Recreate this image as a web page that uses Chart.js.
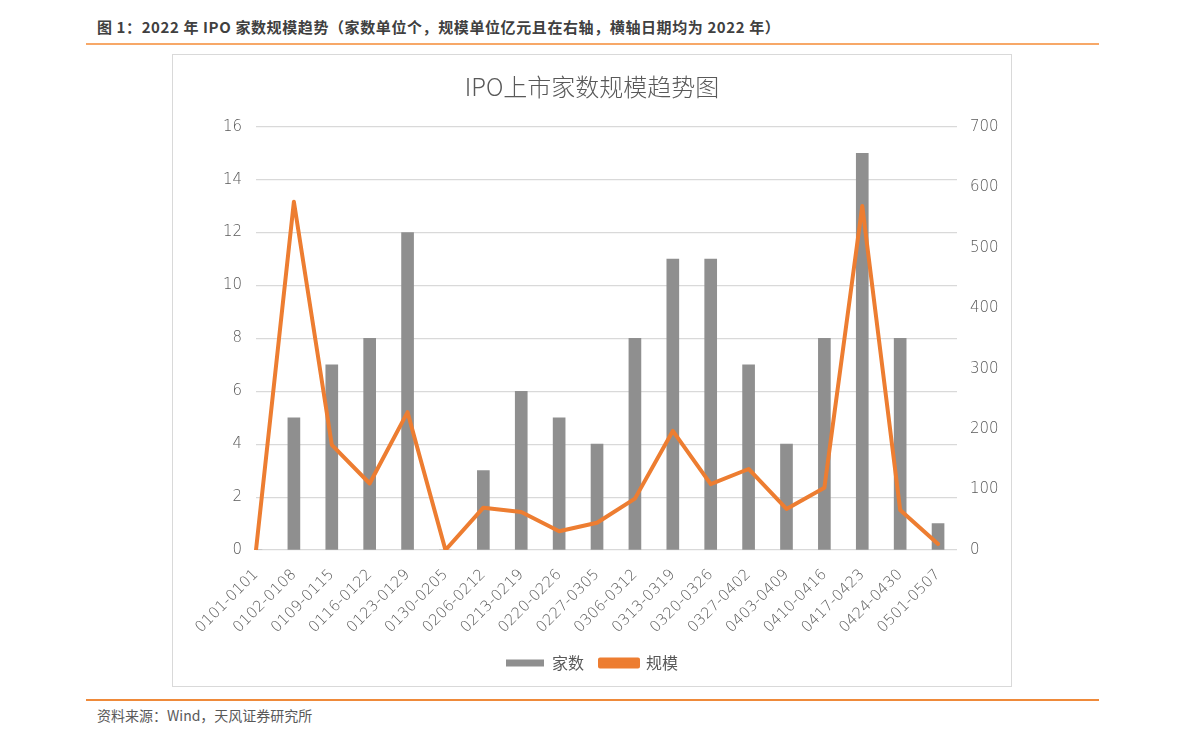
<!DOCTYPE html>
<html>
<head>
<meta charset="utf-8">
<script src="https://cdn.jsdelivr.net/npm/chart.js@4.4.1/dist/chart.umd.min.js"></script>
<style>
  html, body { margin: 0; padding: 0; background: #fff; }
  body { width: 1191px; height: 745px; position: relative; overflow: hidden;
         font-family: "Noto Sans CJK SC", "Noto Sans", sans-serif; }
  .fig-title { position: absolute; left: 97px; top: 16px; font-size: 15px; letter-spacing: 0.6px;
               font-weight: bold; color: #404040; white-space: nowrap; }
  .rule-top { position: absolute; left: 86px; top: 43px; width: 1013px; height: 2px; background: #f7a868; }
  .rule-bottom { position: absolute; left: 86px; top: 699px; width: 1013px; height: 2px; background: #ef8a3a; }
  .source { position: absolute; left: 97px; top: 705px; font-size: 14px; color: #595959; white-space: nowrap; }
  .box { position: absolute; left: 172px; top: 54px; width: 838px; height: 631px;
         border: 1.5px solid #d9d9d9; background: #fff; }
  .box canvas { display: block; }
</style>
</head>
<body>
<div class="fig-title">图 1：2022 年 IPO 家数规模趋势（家数单位个，规模单位亿元且在右轴，横轴日期均为 2022 年）</div>
<div class="rule-top"></div>
<div class="box"><canvas id="chart" width="838" height="631"></canvas></div>
<div class="rule-bottom"></div>
<div class="source">资料来源：Wind，天风证券研究所</div>

<script>
  // weekly ranges, all 2022
  var WEEKS = ['0101-0101', '0102-0108', '0109-0115', '0116-0122', '0123-0129', '0130-0205',
    '0206-0212', '0213-0219', '0220-0226', '0227-0305', '0306-0312', '0313-0319', '0320-0326',
    '0327-0402', '0403-0409', '0410-0416', '0417-0423', '0424-0430', '0501-0507'];
  // number of IPOs (left axis)
  var COUNT = [0, 5, 7, 8, 12, 0, 3, 6, 5, 4, 8, 11, 11, 7, 4, 8, 15, 8, 1];
  // amount raised, 亿元 (right axis)
  var SCALE = [0, 576, 174, 110, 228, 0, 70, 63, 31, 45, 85, 197, 109, 134, 68, 103, 569, 66, 10];
  var LEFT_TICKS = [0, 2, 4, 6, 8, 10, 12, 14, 16];
  var RIGHT_TICKS = [0, 100, 200, 300, 400, 500, 600, 700];

  var GREY_TXT = '#595959';
  var FONT = '"Noto Sans CJK SC", "Noto Sans", sans-serif';
  var TICK_FONT = '"DejaVu Sans", "Noto Sans", sans-serif';

  var ctx = document.getElementById('chart').getContext('2d');
  new Chart(ctx, {
    type: 'bar',
    data: {
      labels: WEEKS,
      datasets: [
        { type: 'bar', label: '家数', data: COUNT, yAxisID: 'y', order: 2,
          backgroundColor: '#8f8f8f', borderWidth: 0, barThickness: 12 },
        { type: 'line', label: '规模', data: SCALE, yAxisID: 'y1', order: 1,
          borderColor: '#ed7d31', backgroundColor: '#ed7d31', borderWidth: 4,
          pointRadius: 0, tension: 0, borderJoinStyle: 'round', borderCapStyle: 'round' }
      ]
    },
    options: {
      responsive: false,
      animation: false,
      layout: { padding: { left: 0, right: 0, top: 0, bottom: 5 } },
      plugins: {
        title: { display: true, text: 'IPO上市家数规模趋势图', color: GREY_TXT,
          font: { family: FONT, size: 24, weight: '300' }, padding: { top: 17, bottom: 26 } },
        legend: { position: 'bottom',
          labels: { color: GREY_TXT, font: { family: FONT, size: 16 }, boxWidth: 38, boxHeight: 7,
            padding: 16, sort: function (a, b) { return a.datasetIndex - b.datasetIndex; } } },
        tooltip: { enabled: false }
      },
      scales: {
        x: {
          offset: false,
          // first week sits on the left edge, half a step of room after the last one
          afterBuildTicks: function (s) { s._valueRange = WEEKS.length - 0.5; },
          afterFit: function (s) { s.height = 89; },
          grid: { display: false },
          border: { display: false },
          ticks: { color: GREY_TXT, font: { family: TICK_FONT, size: 15, weight: '300' },
            minRotation: 45, maxRotation: 45, autoSkip: false, padding: 8 }
        },
        y: {
          position: 'left', min: 0, max: 16,
          afterBuildTicks: function (s) { s.ticks = LEFT_TICKS.map(function (v) { return { value: v }; }); },
          afterFit: function (s) { s.width = 83; },
          grid: { color: '#d9d9d9', lineWidth: 1.2, drawTicks: false },
          border: { display: false },
          ticks: { color: GREY_TXT, font: { family: TICK_FONT, size: 15, weight: '300' }, padding: 14 }
        },
        y1: {
          position: 'right', min: 0, max: 700,
          afterBuildTicks: function (s) { s.ticks = RIGHT_TICKS.map(function (v) { return { value: v }; }); },
          afterFit: function (s) { s.width = 54; },
          grid: { display: false, drawTicks: false },
          border: { display: false },
          ticks: { color: GREY_TXT, font: { family: TICK_FONT, size: 15, weight: '300' }, padding: 13 }
        }
      }
    }
  });
</script>
</body>
</html>
